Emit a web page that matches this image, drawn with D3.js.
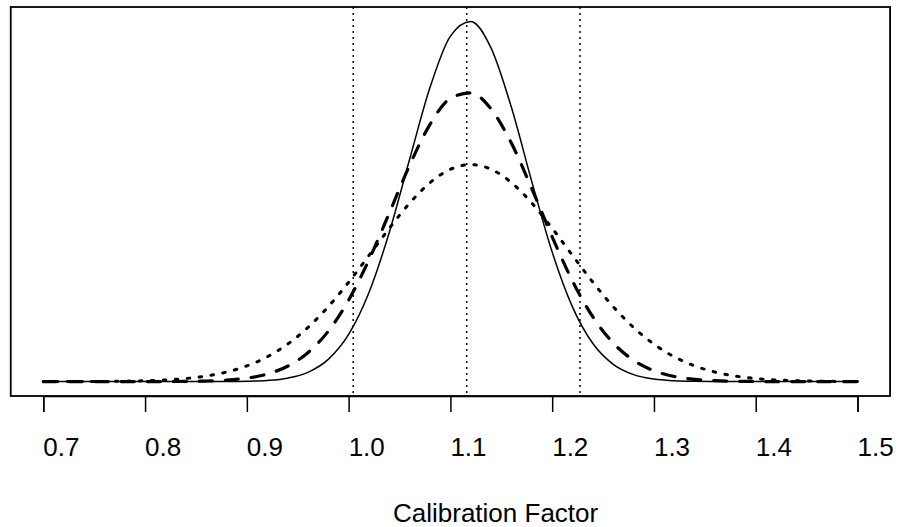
<!DOCTYPE html>
<html>
<head>
<meta charset="utf-8">
<script src="https://cdn.jsdelivr.net/npm/d3@7/dist/d3.min.js"></script>
<style>
  html, body { margin: 0; padding: 0; background: #fff; }
  svg { display: block; }
  text { font-family: "Liberation Sans", Arial, sans-serif; fill: #000; }
</style>
</head>
<body>
<script>
// ---- data ----
const xValues = [0.70,0.72,0.74,0.76,0.78,0.80,0.82,0.84,0.86,0.88,0.90,0.92,0.94,0.96,0.98,
                 1.00,1.02,1.04,1.06,1.08,1.10,1.12,1.14,1.16,1.18,1.20,1.22,1.24,1.26,1.28,
                 1.30,1.32,1.34,1.36,1.38,1.40,1.42,1.44,1.46,1.48,1.50];
const solidValues = [0,0,0,0,0,0,0,0,0.0004,0.0016,0.0063,0.0215,0.0654,0.176,0.423,
                     0.899,1.699,2.850,4.245,5.613,6.591,6.871,6.360,5.227,3.814,2.471,1.421,0.726,0.329,0.1326,
                     0.0474,0.0151,0.0042,0.0011,0,0,0,0,0,0,0];
const dashedValues = [0,0,0,0,0,0.0004,0.0013,0.0039,0.0108,0.0277,0.0655,0.144,0.293,0.551,0.961,
                      1.553,2.323,3.218,4.130,4.908,5.402,5.507,5.199,4.546,3.681,2.761,1.917,1.233,0.735,0.405,
                      0.207,0.098,0.043,0.0175,0.0066,0.0023,0.0007,0,0,0,0];
const dottedValues = [0.0003,0.0007,0.0016,0.0037,0.0078,0.016,0.0313,0.0588,0.1057,0.1819,0.2995,0.4727,0.7136,1.032,1.429,
                      1.895,2.406,2.925,3.405,3.795,4.050,4.139,4.050,3.795,3.405,2.925,2.406,1.895,1.429,1.032,
                      0.7136,0.4727,0.2995,0.1819,0.1057,0.0588,0.0313,0.016,0.0078,0.0037,0.0016];
const refLines = [1.0045, 1.116, 1.2273];
const tickValues = [0.7,0.8,0.9,1.0,1.1,1.2,1.3,1.4,1.5];
const tickLabels = ["0.7","0.8","0.9","1.0","1.1","1.2","1.3","1.4","1.5"];
const xLabel = "Calibration Factor";

// ---- layout ----
const W = 898, H = 527;
const svg = d3.select("body").append("svg").attr("width", W).attr("height", H);

const x = d3.scaleLinear().domain([0.7, 1.5]).range([43.3, 857.5]);
const ymax = d3.max(solidValues);
const y = d3.scaleLinear().domain([-0.04 * ymax, 1.04 * ymax]).range([396, 7]);

const boxL = x(0.7 - 0.032), boxR = x(1.5 + 0.032);
const boxT = 7, boxB = 396;

svg.append("clipPath").attr("id", "clip")
  .append("rect").attr("x", boxL).attr("y", boxT).attr("width", boxR - boxL).attr("height", boxB - boxT);

const g = svg.append("g").attr("clip-path", "url(#clip)");

// reference vertical dotted lines
g.selectAll("line.ref").data(refLines).enter().append("line")
  .attr("class", "ref")
  .attr("x1", d => x(d)).attr("x2", d => x(d))
  .attr("y1", boxT).attr("y2", boxB)
  .attr("stroke", "#000").attr("stroke-width", 1.5)
  .attr("stroke-dasharray", "2,4");

const line = vals => d3.line()
  .x((d, i) => x(xValues[i]))
  .y(d => y(d))
  .curve(d3.curveMonotoneX)(vals);

g.append("path").attr("d", line(dottedValues))
  .attr("fill", "none").attr("stroke", "#000").attr("stroke-width", 3)
  .attr("stroke-linecap", "round").attr("stroke-dasharray", "2.5,9.5");

g.append("path").attr("d", line(dashedValues))
  .attr("fill", "none").attr("stroke", "#000").attr("stroke-width", 3.2)
  .attr("stroke-linecap", "round").attr("stroke-dasharray", "13,13");

g.append("path").attr("d", line(solidValues))
  .attr("fill", "none").attr("stroke", "#000").attr("stroke-width", 1.5);

// box
svg.append("rect").attr("x", boxL).attr("y", boxT)
  .attr("width", boxR - boxL).attr("height", boxB - boxT)
  .attr("fill", "none").attr("stroke", "#000").attr("stroke-width", 1.8);

// x axis
const axis = svg.append("g").attr("transform", `translate(0,${boxB})`)
  .call(d3.axisBottom(x).tickValues(tickValues).tickSize(16).tickFormat(""));
axis.select(".domain").attr("stroke", "#000").attr("stroke-width", 1.5);
axis.selectAll(".tick line").attr("stroke", "#000").attr("stroke-width", 1.5);

svg.selectAll("text.tl").data(tickValues).enter().append("text")
  .attr("class", "tl")
  .attr("x", d => x(d)).attr("y", 455.5)
  .attr("text-anchor", "start")
  .attr("font-size", 26)
  .text((d, i) => tickLabels[i]);

svg.append("text").attr("x", 393).attr("y", 521.5)
  .attr("font-size", 26).attr("text-anchor", "start").text(xLabel);
</script>
</body>
</html>
